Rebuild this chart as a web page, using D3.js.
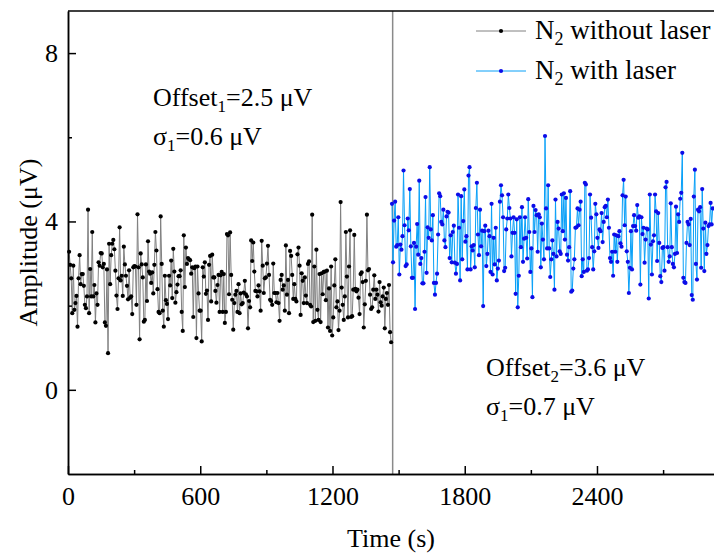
<!DOCTYPE html>
<html>
<head>
<meta charset="utf-8">
<script src="https://cdn.jsdelivr.net/npm/d3@7"></script>
<style>
  body { margin: 0; background: #fff; }
  text { font-family: 'Liberation Serif', 'Times New Roman', serif; fill: #000; }
</style>
</head>
<body>
<div id="plot"></div>
<script>
// amplitude readings (uV), N2 without laser
var withoutLaser = [
    3.28,2.97,2.65,1.82,2.95,1.90,2.06,2.23,1.50,2.65,
    3.20,2.51,2.75,2.75,2.47,2.02,1.94,2.22,4.28,1.82,
    2.87,2.22,3.75,2.22,2.49,1.60,2.29,2.02,3.03,2.95,
    3.25,3.24,2.91,2.99,1.60,1.52,2.86,0.87,3.47,2.51,
    3.20,3.47,3.56,3.34,2.83,2.24,1.92,2.65,3.86,2.60,
    2.71,2.23,3.40,2.98,2.71,2.47,2.15,2.84,2.19,2.22,
    1.80,2.91,2.94,2.93,2.02,4.17,2.91,1.20,3.24,2.98,
    2.67,1.62,
    1.66,2.98,2.11,3.53,2.81,2.76,2.54,2.79,2.29,2.97,
    3.75,3.31,2.39,1.85,1.82,4.12,2.99,1.88,1.50,2.71,
    2.13,2.04,1.68,2.71,2.48,3.07,2.18,3.35,2.81,2.07,
    2.32,2.50,2.70,2.70,2.84,1.85,1.40,3.67,2.44,3.38,
    2.99,3.13,3.10,3.08,2.76,2.91,1.73,2.89,2.93,1.23,
    2.93,2.29,1.88,1.88,1.15,2.91,2.69,3.03,2.28,2.36,
    1.66,2.97,3.18,2.10,3.21,2.67,2.67,2.35,2.07,2.49,
    2.73,1.85,2.72,
    2.80,1.85,2.75,1.59,1.85,3.70,3.67,2.27,3.74,2.73,
    2.14,1.43,2.06,2.26,2.35,1.85,2.51,1.82,2.29,2.03,
    2.06,2.31,2.59,2.27,2.22,1.46,2.11,1.96,3.55,3.06,
    3.50,2.81,2.35,2.34,2.22,2.48,2.34,1.88,3.54,2.95,
    2.30,2.65,2.67,3.00,3.42,2.73,2.14,2.11,2.02,3.00,
    2.30,2.30,2.08,2.30,2.06,1.64,2.61,2.73,2.38,2.48,
    1.88,3.43,2.26,2.61,1.82,3.30,3.18,2.73,2.16,2.51,
    2.16,2.10,3.22,3.38,2.95,1.78,2.77,2.59,2.06,2.67,
    2.24,2.06,2.99,3.05,2.02,1.98,4.16,1.61,2.93,1.64,
    3.33,1.90,1.66,2.75,1.61,2.77,2.27,2.80,2.81,2.13,
    2.83,1.48,2.41,1.40,2.93,1.29,1.72,2.48,3.10,1.96,
    2.10,1.42,1.88,4.46,2.43,2.02,1.66,2.22,3.75,2.69,
    1.72,2.93,3.79,1.73,1.75,2.38,3.68,2.40,2.34,2.38,
    2.19,1.80,2.75,2.79,2.56,1.48,2.03,2.59,4.16,2.84,
    2.87,2.26,1.92,1.96,2.38,2.72,2.16,2.38,2.26,1.86,
    2.56,2.08,2.00,2.22,2.43,1.46,2.16,2.30,2.02,2.49,
    1.37,1.13
];

// amplitude readings (uV), N2 with laser
var withLaser = [
    4.42,3.03,4.02,4.47,3.40,3.44,4.10,2.74,3.45,3.33,
    3.65,5.21,3.91,2.94,2.98,4.07,3.79,4.77,3.41,2.66,
    2.66,3.49,1.92,3.40,3.94,3.21,4.97,2.99,3.13,2.53,
    2.53,3.28,4.58,2.78,3.86,3.61,5.29,3.81,3.55,4.15,
    2.54,2.26,2.54,2.76,3.69,4.67,4.60,3.99,3.93,4.28,
    3.55,3.39,4.12,4.23,4.21,3.13,3.67,3.03,3.75,3.90,
    3.02,2.76,2.99,4.64,3.85,2.60,4.60,3.10,4.01,4.76,
    3.52,3.65,2.86,5.09,
    5.29,2.86,3.41,3.31,3.44,2.91,4.32,4.92,3.69,3.20,
    4.28,3.41,3.78,1.99,3.77,3.90,2.94,3.23,3.78,3.65,
    2.80,4.42,2.74,3.61,2.98,3.85,2.60,2.88,3.07,4.47,
    4.86,4.62,4.10,2.82,2.90,3.81,4.07,4.64,4.32,4.07,
    3.17,3.73,4.10,3.73,2.28,4.05,1.96,2.71,4.10,3.39,
    4.34,3.04,3.59,4.10,3.61,3.12,4.53,3.75,2.80,3.36,
    2.20,4.37,3.75,4.27,4.15,3.28,4.17,4.10,2.91,3.95,
    3.57,3.10,6.03,4.31,3.36,4.86,
    3.36,2.68,3.10,3.55,3.23,2.38,4.52,3.17,3.99,3.83,
    3.29,3.23,4.64,3.77,4.67,3.57,4.56,3.21,3.07,3.39,
    4.72,2.33,2.36,2.88,3.10,3.85,3.86,4.31,3.91,4.28,
    4.47,2.70,3.10,2.80,4.92,4.88,2.83,2.86,3.13,4.64,
    4.09,3.39,2.86,3.29,4.42,4.17,3.61,3.37,3.81,3.77,
    4.20,3.51,3.99,4.34,4.37,4.10,4.52,3.85,3.13,3.04,
    3.28,2.71,3.69,3.28,3.67,3.04,3.65,3.77,3.48,3.40,
    4.62,4.99,3.91,4.59,3.29,3.04,2.30,2.90,3.77,
    2.86,3.89,4.15,3.89,3.78,4.39,4.09,4.12,2.50,4.10,
    3.70,3.85,3.02,3.57,3.83,3.81,2.17,4.64,3.45,2.74,
    3.53,3.67,4.64,4.24,3.06,4.20,3.49,2.70,2.56,3.37,
    3.39,2.83,4.81,4.94,3.39,3.04,3.17,4.43,3.39,2.99,
    2.91,3.23,4.35,3.25,4.17,3.99,4.54,4.68,5.63,2.66,
    2.56,2.54,3.49,3.99,3.93,3.44,4.06,2.25,2.14,4.59,
    5.23,2.99,2.62,4.28,4.24,4.34,2.90,4.77,3.83,2.82,
    3.97,3.23,3.44,3.89,3.93,4.44,3.93,4.31
];

// time span (s) of each recording, samples evenly spaced
var withoutSpan = [5, 1466];
var withSpan = [1470, 2925];
var laserOn = 1473;

var xTicks = [0, 600, 1200, 1800, 2400];
var xMinor = [300, 900, 1500, 2100, 2700];
var yTicks = [0, 4, 8];
var yMinor = [2, 6];

var legendNames = ['without laser', 'with laser'];
var notes = [
    { sub: '1', name: 'Offset', val: '=2.5 μV' },
    { sub: '1', name: 'σ', val: '=0.6 μV' },
    { sub: '2', name: 'Offset', val: '=3.6 μV' },
    { sub: '1', name: 'σ', val: '=0.7 μV' }
];

var W = 714, H = 557;
var padL = 68, padT = 11, padB = 474;
var FS = 26;

var svg = d3.select('#plot')
    .append('svg')
    .attr('width', W)
    .attr('height', H);

var x = d3.scaleLinear().domain([0, 2940]).range([padL, 716]);
var y = d3.scaleLinear().domain([-2, 9]).range([padB, padT]);

function toPoints(vals, span) {
    var step = (span[1] - span[0]) / (vals.length - 1);
    return vals.map(function (v, i) { return { t: span[0] + i * step, v: v }; });
}

var line = d3.line()
    .x(function (d) { return x(d.t); })
    .y(function (d) { return y(d.v); });

// laser switch marker
svg.append('line')
    .attr('x1', x(laserOn)).attr('x2', x(laserOn))
    .attr('y1', padT).attr('y2', padB)
    .attr('stroke', '#8a8a8a')
    .attr('stroke-width', 1.5);

var series = [
    { pts: toPoints(withoutLaser, withoutSpan), stroke: '#808080', dot: '#000000' },
    { pts: toPoints(withLaser, withSpan), stroke: '#08a0f8', dot: '#0c0ce8' }
];

series.forEach(function (s) {
    svg.append('path')
        .attr('d', line(s.pts))
        .attr('fill', 'none')
        .attr('stroke', s.stroke)
        .attr('stroke-width', 1);
    svg.append('g')
        .selectAll('circle')
        .data(s.pts)
        .enter()
        .append('circle')
        .attr('cx', function (d) { return x(d.t); })
        .attr('cy', function (d) { return y(d.v); })
        .attr('r', 2.1)
        .attr('fill', s.dot);
});

// axes
svg.append('g')
    .attr('transform', 'translate(0,' + padB + ')')
    .call(d3.axisBottom(x).tickValues(xTicks).tickFormat(d3.format('d'))
        .tickSize(-8).tickPadding(13).tickSizeOuter(0));
svg.append('g')
    .attr('transform', 'translate(0,' + padB + ')')
    .call(d3.axisBottom(x).tickValues(xMinor).tickSize(-4).tickFormat('').tickSizeOuter(0));
svg.append('g')
    .attr('transform', 'translate(' + padL + ',0)')
    .call(d3.axisLeft(y).tickValues(yTicks).tickFormat(d3.format('d'))
        .tickSize(-8).tickPadding(10).tickSizeOuter(0));
svg.append('g')
    .attr('transform', 'translate(' + padL + ',0)')
    .call(d3.axisLeft(y).tickValues(yMinor).tickSize(-4).tickFormat('').tickSizeOuter(0));

svg.selectAll('.domain, .tick line')
    .attr('stroke', '#000')
    .attr('stroke-width', 1.5);
svg.selectAll('.tick text')
    .attr('font-family', "'Liberation Serif', 'Times New Roman', serif")
    .attr('font-size', FS);

// top frame
svg.append('line')
    .attr('x1', padL).attr('x2', W)
    .attr('y1', padT).attr('y2', padT)
    .attr('stroke', '#000')
    .attr('stroke-width', 1.5);

svg.append('text')
    .attr('x', (padL + W) / 2)
    .attr('y', 547)
    .attr('text-anchor', 'middle')
    .style('font-size', FS + 'px')
    .text('Time (s)');

svg.append('text')
    .attr('transform', 'translate(37,' + ((padT + padB) / 2) + ') rotate(-90)')
    .attr('text-anchor', 'middle')
    .style('font-size', FS + 'px')
    .text('Amplitude (μV)');

// subscripted text helper
function subText(g, px, py, a, sub, b, fs) {
    var t = g.append('text')
        .attr('x', px).attr('y', py)
        .style('font-size', fs + 'px');
    t.append('tspan').text(a);
    t.append('tspan').attr('dy', 6).style('font-size', Math.round(fs * 0.65) + 'px').text(sub);
    t.append('tspan').attr('dy', -6).text(b);
}

var notePos = [[153, 106], [153, 145], [486, 376], [486, 415]];
notes.forEach(function (n, i) {
    subText(svg, notePos[i][0], notePos[i][1], n.name, n.sub, n.val, FS);
});

// legend
series.forEach(function (s, i) {
    var ly = 31 + i * 40;
    svg.append('line')
        .attr('x1', 476).attr('x2', 526)
        .attr('y1', ly).attr('y2', ly)
        .attr('stroke', s.stroke)
        .attr('stroke-width', 1);
    svg.append('circle')
        .attr('cx', 501).attr('cy', ly)
        .attr('r', 2.1)
        .attr('fill', s.dot);
    subText(svg, 535, ly + 8, 'N', '2', ' ' + legendNames[i], 27);
});
</script>
</body>
</html>
